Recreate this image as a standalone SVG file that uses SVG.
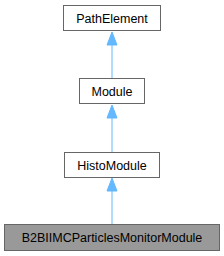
<svg xmlns="http://www.w3.org/2000/svg" width="224" height="256" viewBox="0 0 224 256">
<style>
.n rect{fill:#fff;stroke:#666;stroke-width:1}
.n text{font-family:"Liberation Sans",Arial,sans-serif;font-size:12.5px;text-anchor:middle;fill:#000}
.e{stroke:#63b8ff;stroke-width:1;fill:none}
.h{fill:#63b8ff;stroke:#63b8ff}
</style>
<rect width="224" height="256" fill="#fff"/>
<g id="connectors">
<path class="e" d="M112,78V45"/><polygon class="h" points="112,32 107,45 117,45"/>
<path class="e" d="M112,152V118"/><polygon class="h" points="112,105 107,118 117,118"/>
<path class="e" d="M112,224V191"/><polygon class="h" points="112,178 107,191 117,191"/>
</g>
<g id="PathElement" class="n"><rect x="63.5" y="5.5" width="97" height="25"/><text x="112" y="22.5">PathElement</text></g>
<g id="Module" class="n"><rect x="79.5" y="78.5" width="65" height="25"/><text x="112" y="95.5">Module</text></g>
<g id="HistoModule" class="n"><rect x="64.5" y="152.5" width="95" height="25"/><text x="112" y="169.5">HistoModule</text></g>
<g id="B2BIIMCParticlesMonitorModule" class="n"><rect x="4.5" y="224.5" width="215" height="26" style="fill:#999"/><text x="112" y="242">B2BIIMCParticlesMonitorModule</text></g>
</svg>
